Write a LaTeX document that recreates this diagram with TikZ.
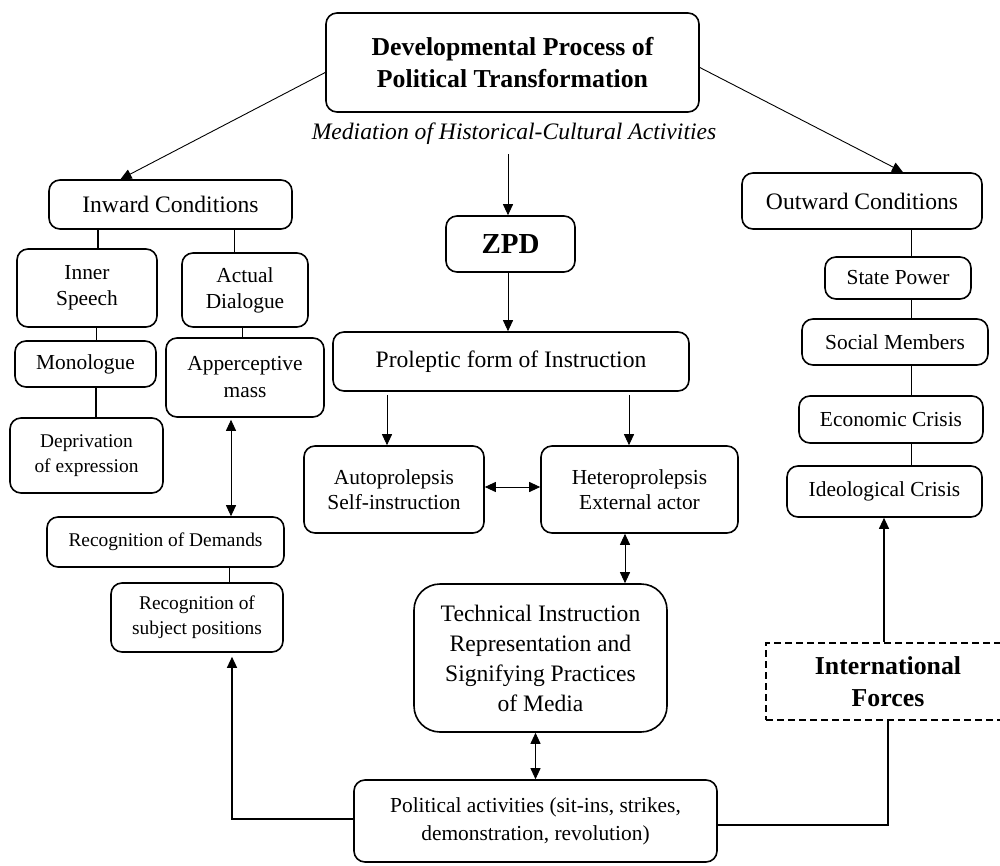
\documentclass[tikz,border=0pt]{standalone}
\usepackage{fontspec}
\setmainfont{Liberation Serif}
\usetikzlibrary{arrows.meta,calc}
\begin{document}
\begin{tikzpicture}[x=1pt,y=-1pt,
  box/.style={draw,line width=1.6pt,rounded corners=11pt,fill=white,inner sep=0pt,align=center},
  fmain/.style={font=\fontsize{23.6}{30}\selectfont},
  fsmall/.style={font=\fontsize{21.4}{26}\selectfont},
  ftiny/.style={font=\fontsize{19.4}{25}\selectfont},
  fbold/.style={font=\fontsize{25.8}{32}\selectfont\bfseries},
  con/.style={line width=0.9pt},
  thk/.style={line width=1.6pt},
  arr/.style={con,-{Triangle[length=11pt,width=10pt]}},
  darr/.style={con,{Triangle[length=11pt,width=10pt]}-{Triangle[length=11pt,width=10pt]}}
]
\useasboundingbox (0,0) rectangle (1000,866);
\clip (0,0) rectangle (1000,866);

% nodes
\node[box,fbold,minimum width=373pt,minimum height=99pt] (top) at (512.5,62.5) {Developmental Process of\\Political Transformation};
\node[fmain,font=\fontsize{23.6}{30}\selectfont\itshape,inner xsep=0pt,inner ysep=9pt] (med) at (514,134) {Mediation of Historical-Cultural Activities};
\node[box,font=\fontsize{29}{34}\selectfont\bfseries,minimum width=129pt,minimum height=56pt] (zpd) at (510.5,244) {ZPD};
\node[box,fmain,minimum width=356pt,minimum height=59pt] (prol) at (511,361.5) {Proleptic form of Instruction};
\node[box,fsmall,font=\fontsize{21.4}{25}\selectfont,minimum width=180pt,minimum height=87pt] (auto) at (394,489.5) {Autoprolepsis\\Self-instruction};
\node[box,fsmall,font=\fontsize{21.4}{25}\selectfont,minimum width=197pt,minimum height=87pt] (hetero) at (639.5,489.5) {Heteroprolepsis\\External actor};
\node[box,fmain,rounded corners=26pt,minimum width=253pt,minimum height=148pt] (tech) at (540.5,658) {Technical Instruction\\Representation and\\Signifying Practices\\of Media};
\node[box,fsmall,font=\fontsize{21.4}{28}\selectfont,minimum width=363pt,minimum height=82pt] (pol) at (535.5,821) {Political activities (sit-ins, strikes,\\demonstration, revolution)};

\node[box,fmain,minimum width=243pt,minimum height=49pt] (inward) at (170.5,204.5) {Inward Conditions};
\node[box,fsmall,minimum width=140pt,minimum height=78pt] (inner) at (87,288) {Inner\\Speech};
\node[box,fsmall,minimum width=126pt,minimum height=74pt] (actual) at (245,290) {Actual\\Dialogue};
\node[box,fsmall,minimum width=141pt,minimum height=46pt] (mono) at (85.5,364) {Monologue};
\node[box,fsmall,font=\fontsize{21.4}{27}\selectfont,minimum width=158pt,minimum height=79pt] (apper) at (245,377.5) {Apperceptive\\mass};
\node[box,ftiny,minimum width=153pt,minimum height=75pt] (depr) at (86.5,455.5) {Deprivation\\of expression};
\node[box,ftiny,minimum width=237pt,minimum height=50pt] (rdem) at (165.5,542) {Recognition of Demands};
\node[box,ftiny,minimum width=172pt,minimum height=69pt] (rsub) at (197,617.5) {Recognition of\\subject positions};

\node[box,fmain,minimum width=240pt,minimum height=56pt] (outw) at (862,201) {Outward Conditions};
\node[box,fsmall,minimum width=146pt,minimum height=42pt] (state) at (898,278) {State Power};
\node[box,fsmall,minimum width=186pt,minimum height=46pt] (social) at (895,342) {Social Members};
\node[box,fsmall,minimum width=184pt,minimum height=47pt] (econ) at (891,419.5) {Economic Crisis};
\node[box,fsmall,minimum width=195pt,minimum height=51pt] (ideo) at (884.5,491.5) {Ideological Crisis};
\node[draw,dashed,dash pattern=on 7pt off 4pt,line width=1.6pt,fill=white,inner sep=0pt,align=center,fbold,minimum width=244pt,minimum height=77pt] (intl) at (888,681.5) {International\\Forces};

\coordinate (vx) at (911,0);

% connectors
\draw[arr] ([yshift=-10pt]top.west) -- ([xshift=-50pt]inward.north);
\draw[arr] ([yshift=-5pt]top.east) -- ([xshift=41pt]outw.north);
\draw[arr] ([xshift=-2.5pt]zpd.north |- med.south) -- ([xshift=-2.5pt]zpd.north);
\draw[arr] ([xshift=-2.5pt]zpd.south) -- ([xshift=-2.5pt]zpd.south |- prol.north);
\draw[arr] ([xshift=-7pt,yshift=-3pt]auto.north |- prol.south) -- ([xshift=-7pt]auto.north);
\draw[arr] ([xshift=-10.5pt,yshift=-3pt]hetero.north |- prol.south) -- ([xshift=-10.5pt]hetero.north);
\draw[darr] ([yshift=2.5pt]auto.east) -- ([yshift=2.5pt]hetero.west);
\draw[darr] ([xshift=-14.5pt]hetero.south) -- ([xshift=-14.5pt]hetero.south |- tech.north);
\draw[darr] (pol.north |- tech.south) -- (pol.north);
\draw[arr,thk,line width=1.3pt,shorten >=4pt] ([yshift=2pt]pol.west) -| ([xshift=35pt]rsub.south);
\draw[thk,line width=1.3pt] ([yshift=-4pt]pol.east) -| (intl.south);
\draw[arr,line width=1.1pt] ([xshift=-4pt]intl.north) -- ([xshift=-4pt]intl.north |- ideo.south);
\draw[darr,shorten <=2pt] ([xshift=-14pt]apper.south) -- ([xshift=-14pt]apper.south |- rdem.north);

\draw[thk,line width=1.4pt] ([xshift=11pt]inner.north) -- ([xshift=11pt]inner.north |- inward.south);
\draw[con] ([xshift=-11pt]actual.north) -- ([xshift=-11pt]actual.north |- inward.south);
\draw[con] ([xshift=9pt]inner.south) -- ([xshift=9pt]inner.south |- mono.north);
\draw[con] ([xshift=-3pt]actual.south) -- ([xshift=-3pt]actual.south |- apper.north);
\draw[thk,line width=1.4pt] ([xshift=10.5pt]mono.south) -- ([xshift=10.5pt]mono.south |- depr.north);
\draw[con] ([xshift=32pt]rsub.north) -- ([xshift=32pt]rsub.north |- rdem.south);

\draw[con] (outw.south -| vx) -- (state.north -| vx);
\draw[con] (state.south -| vx) -- (social.north -| vx);
\draw[con] (social.south -| vx) -- (econ.north -| vx);
\draw[con] (econ.south -| vx) -- (ideo.north -| vx);
\end{tikzpicture}
\end{document}
